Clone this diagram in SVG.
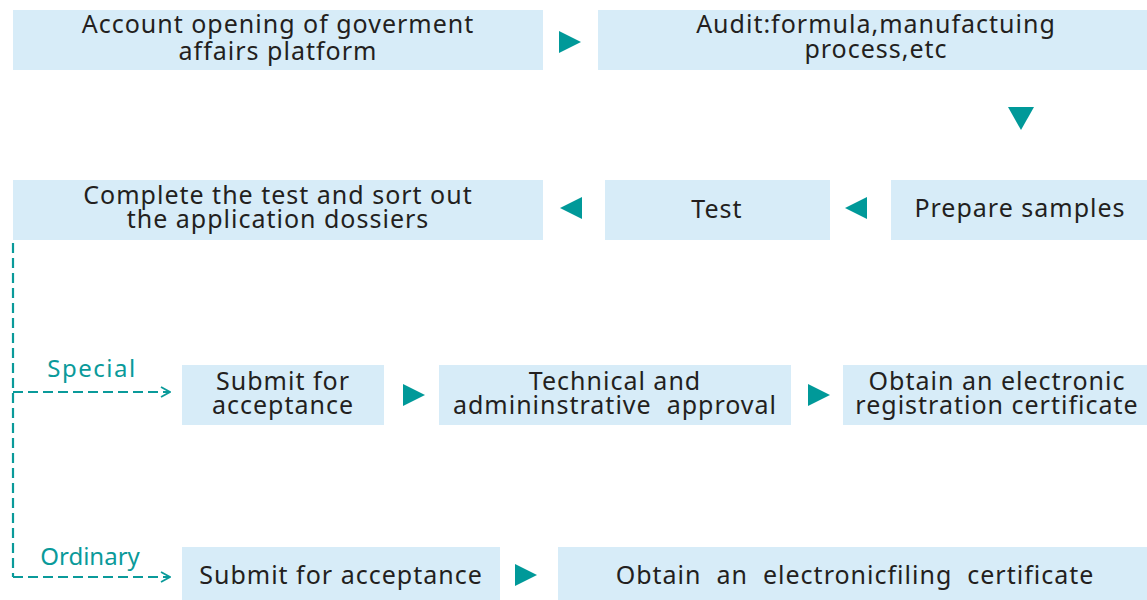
<svg xmlns="http://www.w3.org/2000/svg" width="1147" height="600" viewBox="0 0 1147 600">
<style>
.box{fill:#d7ecf8}
.t{font-family:"Noto Sans","Open Sans",sans-serif;font-size:25px;fill:#231f20;text-anchor:middle;letter-spacing:1px}
.lbl{font-family:"Noto Sans","Open Sans",sans-serif;font-size:24px;fill:#0a9a9a;text-anchor:middle}
.tri{fill:#009999}
.dash{fill:none;stroke:#0a9a9a;stroke-width:2.2;stroke-dasharray:10 5}
</style>
<defs>
<marker id="open" viewBox="0 0 12 12" refX="11" refY="6" markerWidth="12" markerHeight="12" markerUnits="userSpaceOnUse" orient="auto">
<path d="M2,1 L11,6 L2,11" fill="none" stroke="#0a9a9a" stroke-width="1.8"/>
</marker>
</defs>
<rect width="1147" height="600" fill="#fff"/>
<g id="n1"><rect class="box" x="13" y="10" width="530" height="60"/><text class="t" x="278" y="33">Account opening of goverment</text><text class="t" x="278" y="60">affairs platform</text></g>
<g id="n2"><rect class="box" x="598" y="10" width="549" height="60"/><text class="t" x="876" y="33">Audit:formula,manufactuing</text><text class="t" x="876" y="58">process,etc</text></g>
<g id="n3"><rect class="box" x="891" y="180" width="256" height="60"/><text class="t" x="1020" y="217">Prepare samples</text></g>
<g id="n4"><rect class="box" x="605" y="180" width="225" height="60"/><text class="t" x="717" y="218">Test</text></g>
<g id="n5"><rect class="box" x="13" y="180" width="530" height="60"/><text class="t" x="278" y="204">Complete the test and sort out</text><text class="t" x="278" y="228">the application dossiers</text></g>
<g id="n6"><rect class="box" x="182" y="365" width="202" height="60"/><text class="t" x="283" y="390">Submit for</text><text class="t" x="283" y="414">acceptance</text></g>
<g id="n7"><rect class="box" x="439" y="365" width="352" height="60"/><text class="t" x="615" y="390">Technical and</text><text class="t" x="615" y="414" xml:space="preserve">admininstrative  approval</text></g>
<g id="n8"><rect class="box" x="843" y="365" width="304" height="60"/><text class="t" x="997" y="390">Obtain an electronic</text><text class="t" x="997" y="414">registration certificate</text></g>
<g id="n9"><rect class="box" x="182" y="547" width="318" height="53"/><text class="t" x="341" y="584">Submit for acceptance</text></g>
<g id="n10"><rect class="box" x="558" y="547" width="589" height="53"/><text class="t" x="855" y="584" xml:space="preserve">Obtain  an  electronicfiling  certificate</text></g>
<g id="connectors">
<polygon class="tri" points="559,31 581,42 559,53"/>
<polygon class="tri" points="1008,107 1034,107 1021,130"/>
<polygon class="tri" points="867,197 845,208 867,219"/>
<polygon class="tri" points="582,197 560,208 582,219"/>
<polygon class="tri" points="403,384 425,395 403,406"/>
<polygon class="tri" points="808,384 830,395 808,406"/>
<polygon class="tri" points="515,564 537,575 515,586"/>
<path class="dash" d="M13,243 V577" stroke-dasharray="20 10"/>
<path class="dash" d="M13,392 H170" marker-end="url(#open)"/>
<path class="dash" d="M13,577 H170" marker-end="url(#open)"/>
<text class="lbl" x="92" y="377" letter-spacing="1.5">Special</text>
<text class="lbl" x="90" y="565">Ordinary</text>
</g>
</svg>
